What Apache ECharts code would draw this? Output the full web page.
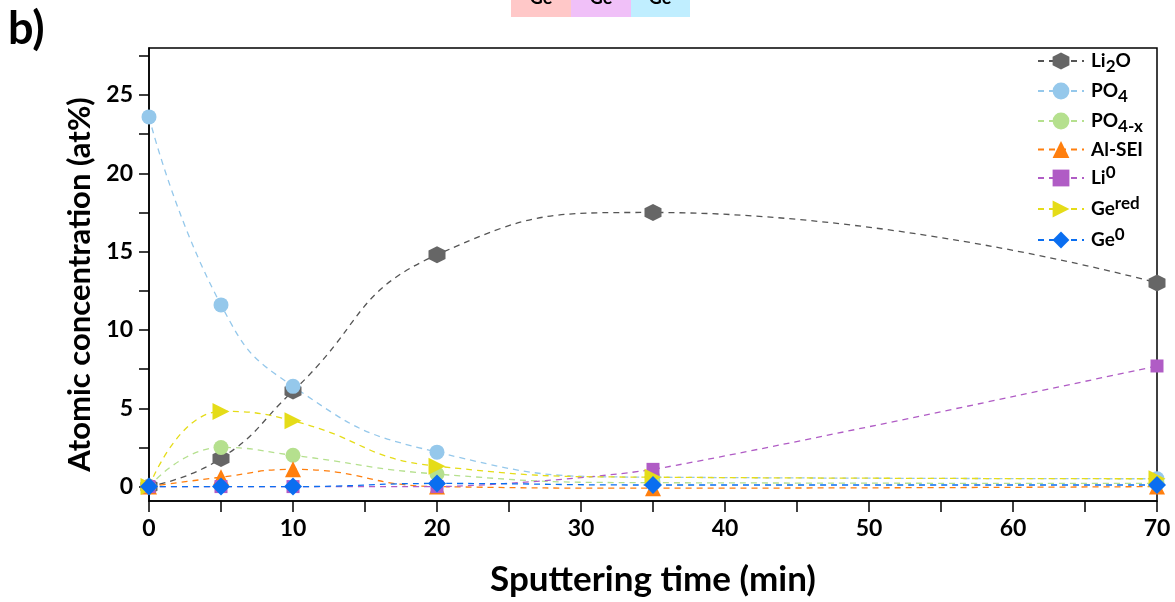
<!DOCTYPE html>
<html>
<head>
<meta charset="utf-8">
<script src="https://cdn.jsdelivr.net/npm/echarts@6/dist/echarts.min.js"></script>
<style>html,body{margin:0;padding:0;background:#fff}#c{width:1175px;height:602px}</style>
</head>
<body>
<div id="c"></div>
<script>
const times = [0, 5, 10, 20, 35, 70];
const li2o  = [0, 1.8, 6.1, 14.8, 17.5, 13.0];
const po4   = [23.6, 11.6, 6.4, 2.2, 0.6, 0.5];
const po4x  = [0, 2.5, 2.0, 0.8, 0.25, 0.2];
const alsei = [0, 0.6, 1.1, 0.0, -0.1, 0.0];
const li0   = [0, 0, 0, 0, 1.1, 7.7];
const gered = [0, 4.8, 4.2, 1.3, 0.6, 0.5];
const ge0   = [0, 0, 0, 0.2, 0.1, 0.1];
const seriesNames = ['Li2O', 'PO4', 'PO4-x', 'Al-SEI', 'Li0', 'Gered', 'Ge0'];
const yTickLabels = [0, 5, 10, 15, 20, 25];
const yTicks = [0, 2.5, 5, 7.5, 10, 12.5, 15, 17.5, 20, 22.5, 25, 27.5];

const FONT = 'Lato';
const W = 'bold';
const hexagon = 'path://M0,-1 L0.866,-0.5 L0.866,0.5 L0,1 L-0.866,0.5 L-0.866,-0.5 Z';

function pts(arr) { return times.map((t, i) => [t, arr[i]]); }

const cfg = [
  {name: seriesNames[0], data: li2o, color: '#666666', line: '#555555', symbol: hexagon, size: 17},
  {name: seriesNames[1], data: po4, color: '#95C8EB', line: '#95C8EB', symbol: 'circle', size: 15},
  {name: seriesNames[2], data: po4x, color: '#B5E08E', line: '#B5E08E', symbol: 'circle', size: 15},
  {name: seriesNames[3], data: alsei, color: '#FF7F0E', line: '#FF7F0E', symbol: 'triangle', size: 16},
  {name: seriesNames[4], data: li0, color: '#B05CC5', line: '#B05CC5', symbol: 'rect', size: 13, smooth: 0.2},
  {name: seriesNames[5], data: gered, color: '#E5DC18', line: '#E5DC18', symbol: 'triangle', size: 17, rotate: -90},
  {name: seriesNames[6], data: ge0, color: '#0A6EF0', line: '#0A6EF0', symbol: 'diamond', size: 18}
];

const series = cfg.map(c => ({
  name: c.name,
  type: 'line',
  data: pts(c.data),
  smooth: c.smooth !== undefined ? c.smooth : 0.5,
  symbol: c.symbol,
  symbolSize: c.size,
  symbolRotate: c.rotate || 0,
  showAllSymbol: true,
  clip: true,
  itemStyle: {color: c.color, opacity: 1},
  lineStyle: {color: c.line, width: 1.3, type: [6, 5]},
  emphasis: {disabled: true}
}));

const rich = {
  b: {fontFamily: FONT, fontWeight: W, fontSize: 19, color: '#000', lineHeight: 28, verticalAlign: 'middle'},
  sub: {fontFamily: FONT, fontWeight: W, fontSize: 17, color: '#000', lineHeight: 28, verticalAlign: 'bottom', padding: [8, 0, 0, 0]},
  sup: {fontFamily: FONT, fontWeight: W, fontSize: 17, color: '#000', lineHeight: 28, verticalAlign: 'top', padding: [0, 0, 9, 0]}
};
const labelMap = {
  'Li2O': '{b|Li}{sub|2}{b|O}',
  'PO4': '{b|PO}{sub|4}',
  'PO4-x': '{b|PO}{sub|4-x}',
  'Al-SEI': '{b|Al-SEI}',
  'Li0': '{b|Li}{sup|0}',
  'Gered': '{b|Ge}{sup|red}',
  'Ge0': '{b|Ge}{sup|0}'
};

const chart = echarts.init(document.getElementById('c'), null, {renderer: 'canvas'});
chart.setOption({
  animation: false,
  backgroundColor: '#fff',
  grid: {left: 149, right: 18, top: 48, bottom: 99, show: true, borderColor: '#000', borderWidth: 1.5, backgroundColor: 'transparent'},
  legend: {
    orient: 'vertical', left: 1037, top: 50,
    itemWidth: 46, itemHeight: 21, itemGap: 5, padding: 0,
    data: seriesNames,
    formatter: n => labelMap[n],
    textStyle: {rich: rich, fontFamily: FONT, fontWeight: W, fontSize: 19, color: '#000', padding: [0, 0, 0, 2]},
    selectedMode: false
  },
  xAxis: {
    type: 'value', min: 0, max: 70, interval: 5,
    name: 'Sputtering time (min)', nameLocation: 'middle', nameGap: 61,
    nameTextStyle: {fontFamily: FONT, fontWeight: W, fontSize: 35, color: '#000'},
    axisLine: {onZero: false, lineStyle: {color: '#000', width: 1.5}},
    axisTick: {show: true, inside: false, length: 11, lineStyle: {color: '#000', width: 1.5}},
    axisLabel: {formatter: v => (v % 10 === 0 ? String(v) : ''), margin: 16, fontFamily: FONT, fontWeight: W, fontSize: 23, color: '#000'},
    splitLine: {show: false}
  },
  yAxis: {
    type: 'value', min: -0.92, max: 28,
    name: 'Atomic concentration (at%)', nameLocation: 'middle', nameGap: 44,
    nameTextStyle: {fontFamily: FONT, fontWeight: W, fontSize: 31, color: '#000', padding: [0, 20, 0, 0]},
    axisLine: {onZero: false, lineStyle: {color: '#000', width: 1.5}},
    axisTick: {show: true, inside: false, length: 10, customValues: yTicks, lineStyle: {color: '#000', width: 1.5}},
    axisLabel: {customValues: yTickLabels, margin: 16, fontFamily: FONT, fontWeight: W, fontSize: 23, color: '#000'},
    splitLine: {show: false}
  },
  graphic: [
    {type: 'rect', shape: {x: 511, y: 0, width: 60, height: 17}, style: {fill: '#FFC8C8'}},
    {type: 'rect', shape: {x: 571, y: 0, width: 60, height: 17}, style: {fill: '#F0C0F8'}},
    {type: 'rect', shape: {x: 631, y: 0, width: 59, height: 17}, style: {fill: '#C0EEFF'}},
    {type: 'text', x: 541, y: 7, style: {text: 'Ge', fontFamily: FONT, fontWeight: W, fontSize: 18, fill: '#000', textAlign: 'center', textVerticalAlign: 'bottom'}},
    {type: 'text', x: 601, y: 7, style: {text: 'Ge', fontFamily: FONT, fontWeight: W, fontSize: 18, fill: '#000', textAlign: 'center', textVerticalAlign: 'bottom'}},
    {type: 'text', x: 660, y: 7, style: {text: 'Ge', fontFamily: FONT, fontWeight: W, fontSize: 18, fill: '#000', textAlign: 'center', textVerticalAlign: 'bottom'}},
    {type: 'text', x: 8, y: 7, style: {text: 'b)', fontFamily: FONT, fontWeight: W, fontSize: 45, fill: '#000'}}
  ],
  series: series
});
</script>
</body>
</html>
